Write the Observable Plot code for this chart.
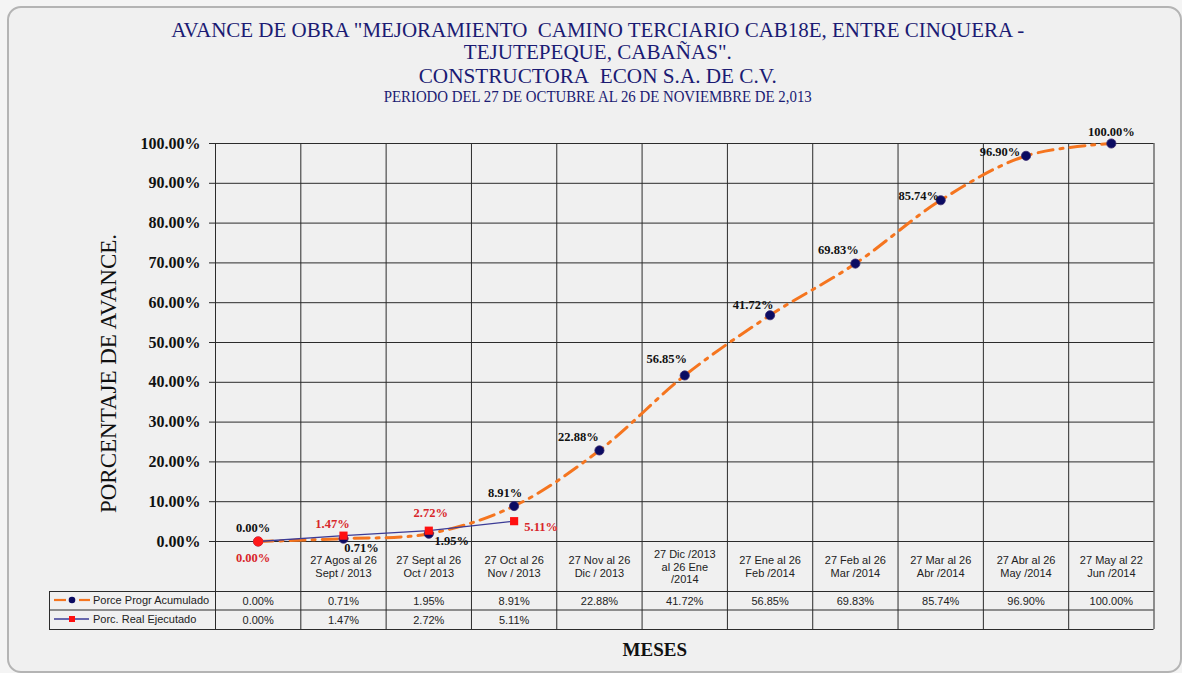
<!DOCTYPE html>
<html>
<head>
<meta charset="utf-8">
<script src="https://cdn.jsdelivr.net/npm/d3@7"></script>
<script src="https://cdn.jsdelivr.net/npm/@observablehq/plot@0.6"></script>
<style>
  html, body { margin: 0; padding: 0; background: #f4f4f4; }
  #wrap { position: relative; width: 1182px; height: 673px; overflow: hidden; }
  #frame { position: absolute; left: 7px; top: 6px; width: 1175px; height: 667px; box-sizing: border-box;
           border: 2px solid #b4b4b4; border-radius: 14px; background: #f0f0f0; }
  #chart { position: absolute; left: 0; top: 0; }
  .tl { position: absolute; left: 0; width: 1196px; text-align: center; color: #1b1b73;
        font-family: "Liberation Serif", "Times New Roman", serif; white-space: nowrap; }
  .tl span { display: inline-block; transform-origin: center center; }
  .lg { position: absolute; left: 52px; height: 18px; display: flex; align-items: center;
        font-family: "Liberation Sans", Arial, sans-serif; font-size: 11px; color: #222; white-space: nowrap; }
  .lg svg { margin-right: 3px; flex: none; }
</style>
</head>
<body>
<div id="wrap">
  <div id="frame"></div>
  <div id="chart"></div>
  <div class="tl" style="top:20px;font-size:22px;line-height:20px;"><span data-w="853">AVANCE DE OBRA "MEJORAMIENTO&nbsp; CAMINO TERCIARIO CAB18E, ENTRE CINQUERA -</span></div>
  <div class="tl" style="top:42px;font-size:22px;line-height:20px;"><span data-w="268">TEJUTEPEQUE, CABAÑAS".</span></div>
  <div class="tl" style="top:66px;font-size:22px;line-height:20px;"><span data-w="358">CONSTRUCTORA&nbsp; ECON S.A. DE C.V.</span></div>
  <div class="tl" style="top:89px;font-size:16px;line-height:16px;"><span data-w="428">PERIODO DEL 27 DE OCTUBRE AL 26 DE NOVIEMBRE DE 2,013</span></div>
  <div class="lg" style="top:591px;"><svg width="38" height="12"><line x1="2" y1="6" x2="14" y2="6" stroke="#f5751f" stroke-width="2.2"/><circle cx="20" cy="6" r="3.3" fill="#0b0b62"/><line x1="27" y1="6" x2="38" y2="6" stroke="#f5751f" stroke-width="2.2"/></svg><span id="lg0"></span></div>
  <div class="lg" style="top:610px;"><svg width="38" height="12"><line x1="2" y1="6" x2="37" y2="6" stroke="#3b3b96" stroke-width="1.3"/><rect x="17" y="3" width="6" height="6" fill="#ff1010"/></svg><span id="lg1"></span></div>
</div>
<script>
// ---- data ----
const categories = [
  "",
  "27 Agos al 26\nSept / 2013",
  "27 Sept al 26\nOct / 2013",
  "27 Oct al 26\nNov / 2013",
  "27 Nov al 26\nDic / 2013",
  "27 Dic /2013\nal 26 Ene\n/2014",
  "27 Ene al 26\nFeb /2014",
  "27 Feb al 26\nMar /2014",
  "27 Mar al 26\nAbr /2014",
  "27 Abr al 26\nMay /2014",
  "27 May al 22\nJun /2014"
];
const programado = [0, 0.71, 1.95, 8.91, 22.88, 41.72, 56.85, 69.83, 85.74, 96.90, 100.00];
const ejecutado = [0, 1.47, 2.72, 5.11];
// point labels exactly as printed on the chart
const programadoLabels = ["0.00%", "0.71%", "1.95%", "8.91%", "22.88%", "56.85%", "41.72%", "69.83%", "85.74%", "96.90%", "100.00%"];
const ejecutadoLabels = ["0.00%", "1.47%", "2.72%", "5.11%"];
const yTicks = [0, 10, 20, 30, 40, 50, 60, 70, 80, 90, 100];
const seriesNames = ["Porce Progr Acumulado", "Porc. Real Ejecutado"];

document.getElementById("lg0").textContent = seriesNames[0];
document.getElementById("lg1").textContent = seriesNames[1];

const prog = programado.map((v, i) => ({i, v, label: programadoLabels[i], cat: categories[i]}));
const real = ejecutado.map((v, i) => ({i, v, label: ejecutadoLabels[i]}));
const fmt = v => v.toFixed(2) + "%";
const X = d => d.i + 0.5;

// ---- label placement (style) ----
const progPlace = [[-5,-14],[18,9],[23,7],[-9,-13],[-21,-13],[-18,-16],[-17,-10],[-17,-14],[-22,-4],[-26,-4],[0,-12]];
const realPlace = [[-5,16],[-11,-12],[2,-18],[27,6]];

const grid = "#2b2b2b";
const serif = "Liberation Serif";
const sans = "Liberation Sans";

const marks = [
  Plot.gridY(yTicks, {stroke: grid, strokeOpacity: 1, strokeWidth: 1}),
  Plot.ruleX(d3.range(categories.length + 1), {stroke: grid, strokeWidth: 1, insetBottom: -88}),
  ...[50, 68.5, 88].map(dy => Plot.ruleY([0], {stroke: grid, strokeWidth: 1, dy, insetLeft: -166})),
  Plot.ruleX([0], {y1: 0, y2: 0, dx: -166, stroke: grid, insetTop: 50, insetBottom: -88}),
  Plot.axisY(yTicks, {tickFormat: fmt, tickSize: 6, tickPadding: 9, stroke: grid, label: null,
    fontSize: 16, fontWeight: "bold", fontFamily: serif, fill: "#111"}),
  Plot.text(["PORCENTAJE DE AVANCE."], {frameAnchor: "left", textAnchor: "middle", rotate: -90, dx: -107, dy: 31,
    fontSize: 23, fontFamily: serif, fill: "#111"}),
  Plot.text(["MESES"], {frameAnchor: "bottom", dx: -30, dy: 114, fontSize: 19, fontWeight: "bold", fontFamily: serif, fill: "#111"}),
  // category labels and table rows
  Plot.text(prog, {x: X, y: 0, text: "cat", dy: 25, lineHeight: 1.15, fontSize: 11, fontFamily: sans, fill: "#222"}),
  Plot.text(prog, {x: X, y: 0, text: d => fmt(d.v), dy: 59.5, fontSize: 11, fontFamily: sans, fill: "#222"}),
  Plot.text(real, {x: X, y: 0, text: d => fmt(d.v), dy: 78.5, fontSize: 11, fontFamily: sans, fill: "#222"}),
  // series
  Plot.line(prog, {x: X, y: "v", stroke: "#f5751f", strokeWidth: 3, strokeDasharray: "15,7,3,7", curve: "catmull-rom"}),
  Plot.dot(prog, {x: X, y: "v", r: 4.6, fill: "#0b0b62", stroke: "#3a2a70", strokeWidth: 0.8}),
  Plot.line(real, {x: X, y: "v", stroke: "#3b3b96", strokeWidth: 1.3}),
  Plot.dot(real.filter(d => d.i > 0), {x: X, y: "v", r: 4.6, symbol: "square", fill: "#ff1010"}),
  Plot.dot(real.filter(d => d.i === 0), {x: X, y: "v", r: 5, fill: "#ff1a1a"}),
  // point labels
  ...progPlace.map(([dx, dy], i) => Plot.text([prog[i]], {x: X, y: "v", text: "label", dx, dy,
    fontSize: 12.5, fontWeight: "bold", fontFamily: serif, fill: "#111"})),
  ...realPlace.map(([dx, dy], i) => Plot.text([real[i]], {x: X, y: "v", text: "label", dx, dy,
    fontSize: 12.5, fontWeight: "bold", fontFamily: serif, fill: "#d8262a"}))
];

const chart = Plot.plot({
  width: 1182, height: 673,
  marginLeft: 215, marginRight: 28.5, marginTop: 143, marginBottom: 132,
  style: {background: "transparent", overflow: "visible"},
  x: {type: "linear", domain: [0, categories.length], axis: null},
  y: {domain: [0, 100], axis: null},
  marks
});
document.getElementById("chart").appendChild(chart);

// fit condensed title lines to their measured widths
document.querySelectorAll(".tl span").forEach(s => {
  const w = s.getBoundingClientRect().width;
  s.style.transform = `scaleX(${(+s.dataset.w) / w})`;
});
</script>
</body>
</html>
